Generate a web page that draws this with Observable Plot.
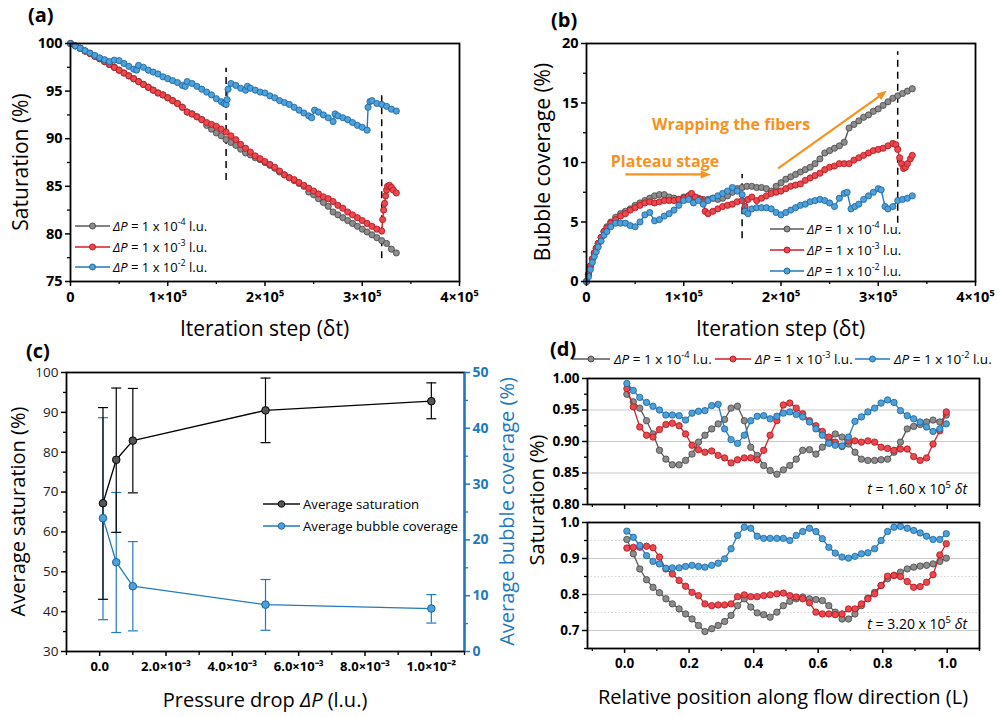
<!DOCTYPE html>
<html>
<head>
<meta charset="utf-8">
<script src="https://cdn.jsdelivr.net/npm/d3@7"></script>
<script src="https://cdn.jsdelivr.net/npm/@observablehq/plot@0.6"></script>
<style>
  body { margin: 0; background: #fff; }
  #fig { position: relative; width: 998px; height: 717px; overflow: hidden; background: #fff; }
  #fig > svg { position: absolute; max-width: none; }
</style>
</head>
<body>
<div id="fig"></div>
<script>
// ---------- (a) saturation (%) vs iteration step (steps in thousands of δt) ----------
const satGrayK = [0,5,10,15,20,25,30,35,40,45,50,55,60,65,70,75,80,85,90,95,100,105,110,115,120,125,130,135,140,145,150,155,160,165,170,175,180,185,190,195,200,205,210,215,220,225,230,235,240,245,250,255,260,265,270,275,280,285,290,295,300,305,310,315,320,325,330,335];
const satGray = [100.0,99.75,99.5,99.2,98.95,98.65,98.4,98.1,97.8,97.5,97.2,96.9,96.6,96.3,96.0,95.7,95.4,95.1,94.8,94.6,94.3,94.0,93.7,93.3,92.8,92.6,92.3,92.0,91.4,91.0,90.6,90.3,89.9,89.6,89.3,88.9,88.5,88.3,88.0,87.8,87.5,87.2,86.9,86.5,86.2,85.9,85.6,85.3,85.0,84.4,84.1,83.7,83.3,82.9,82.3,82.0,81.7,81.4,81.1,80.8,80.5,80.2,79.9,79.6,79.3,79.0,78.4,78.0];
const satRedK = [0,5,10,15,20,25,30,35,40,45,50,55,60,65,70,75,80,85,90,95,100,105,110,115,120,125,130,135,140,145,150,155,160,165,170,175,180,185,190,195,200,205,210,215,220,225,230,235,240,245,250,255,260,265,270,275,280,285,290,295,300,305,310,315,320,321,322,323,324,325,326,328,330,332,335];
const satRed = [100.0,99.75,99.5,99.2,98.95,98.65,98.4,98.1,97.8,97.5,97.2,96.9,96.6,96.3,96.0,95.7,95.4,95.1,94.8,94.6,94.3,94.0,93.7,93.3,92.8,92.6,92.3,92.0,91.7,91.5,91.3,91.0,90.7,90.3,89.9,89.4,89.0,88.6,88.2,87.9,87.6,87.3,87.0,86.6,86.2,85.9,85.7,85.4,85.1,84.8,84.5,84.2,83.9,83.7,83.4,83.0,82.7,82.3,82.0,81.7,81.4,81.1,80.8,80.5,80.3,81.5,82.5,83.2,84.0,84.6,85.0,85.1,84.9,84.6,84.3];
const satBlueK = [0,5,10,15,20,25,30,35,40,45,50,55,60,65,68,70,75,80,85,90,95,100,105,110,115,118,120,125,130,135,140,145,150,155,158,160,161,162,165,170,175,180,182,185,190,195,200,205,210,215,220,225,230,235,240,245,248,251,255,260,265,270,272,275,280,285,290,295,300,305,306,308,310,315,320,325,330,335];
const satBlue = [100.0,99.75,99.5,99.25,99.0,98.75,98.5,98.3,98.1,98.25,98.2,97.9,97.6,97.3,97.2,97.7,97.5,97.2,97.0,96.8,96.5,96.3,96.1,95.9,95.6,95.5,96.0,95.8,95.5,95.2,94.9,94.6,94.2,93.9,93.7,93.6,94.1,95.2,95.8,95.6,95.3,95.1,95.5,95.3,95.1,94.9,94.8,94.5,94.3,94.0,93.8,93.6,93.3,93.0,92.7,92.4,92.2,93.0,92.8,92.5,92.2,91.8,92.6,92.4,92.2,92.0,91.7,91.4,91.2,90.9,93.3,93.9,94.0,93.7,93.6,93.4,93.1,92.9];

// ---------- (b) bubble coverage (%) vs iteration step ----------
const covGrayK = [0,2,4,6,8,10,12,15,18,21,25,30,35,40,45,50,55,60,65,70,75,80,85,90,95,100,105,110,115,120,125,130,135,140,145,150,155,160,165,170,175,180,185,190,195,200,205,210,215,220,225,230,235,240,245,250,255,260,265,270,275,280,285,290,295,300,305,310,315,320,325,330,335];
const covGray = [0,0.6,1.3,1.9,2.4,2.8,3.2,3.7,4.2,4.6,5.0,5.4,5.7,5.9,6.1,6.4,6.6,6.8,7.0,7.2,7.3,7.3,7.1,7.0,6.9,7.1,7.2,7.1,7.0,6.9,6.9,7.0,6.9,7.0,7.2,7.5,7.8,7.9,8.0,8.0,7.9,7.9,7.8,7.6,8.0,8.3,8.6,8.8,9.0,9.2,9.4,9.6,9.9,10.3,10.8,11.0,11.2,11.4,11.7,12.9,13.2,13.5,13.8,14.0,14.3,14.5,14.8,15.1,15.4,15.6,15.8,16.0,16.2];
const covRedK = [0,2,4,6,8,10,12,15,18,21,25,30,35,40,45,50,55,60,65,70,75,80,85,90,95,100,105,108,112,117,120,122,125,130,135,140,145,150,155,160,163,166,170,175,180,185,190,195,200,205,210,215,220,225,230,235,240,245,250,255,260,265,270,275,280,285,290,295,300,305,310,315,318,320,322,324,326,328,330,333,335];
const covRed = [0,0.6,1.3,1.9,2.4,2.8,3.2,3.7,4.2,4.5,4.9,5.2,5.5,5.7,6.0,6.2,6.4,6.6,6.7,6.6,6.7,6.8,6.8,6.8,6.9,7.0,7.2,7.4,7.1,6.9,6.7,5.9,5.7,5.9,6.1,6.3,6.4,6.5,6.7,6.8,6.3,6.9,7.1,6.8,7.0,7.2,7.4,7.5,7.6,7.8,8.0,8.1,8.2,8.5,8.7,8.9,9.1,9.4,9.6,9.7,9.9,9.9,9.9,10.2,10.4,10.6,10.8,11.0,11.1,11.2,11.4,11.6,11.5,11.1,10.4,9.9,9.5,9.6,9.9,10.3,10.6];
const covBlueK = [0,2,4,6,8,10,12,15,18,21,25,30,35,40,45,50,55,60,65,70,75,80,85,90,95,100,105,110,115,120,125,130,135,140,145,150,155,160,163,166,170,175,180,185,190,195,200,205,210,215,220,225,230,235,240,245,250,255,260,265,268,272,276,280,285,290,295,300,303,307,310,315,320,325,330,335];
const covBlue = [0,0.4,1.0,1.6,2.1,2.5,2.9,3.4,3.9,4.2,4.6,4.9,4.9,4.9,4.7,4.6,5.0,5.6,5.8,5.1,5.2,5.5,5.7,6.0,6.4,6.8,6.9,6.6,6.8,6.5,6.8,7.0,7.2,7.4,7.6,7.9,7.6,7.3,5.9,5.7,6.1,6.2,6.2,6.2,6.1,5.8,5.6,5.8,6.0,6.2,6.4,6.5,6.7,6.8,6.9,6.8,6.6,6.3,7.0,7.4,7.5,6.1,6.3,6.5,6.9,7.2,7.5,7.8,7.7,6.3,6.1,6.3,6.8,6.9,7.0,7.2];

// ---------- (c) averages vs pressure drop ----------
const pressureDrop = [1e-4, 5e-4, 1e-3, 5e-3, 1e-2];
const avgSat = [67.2, 78.1, 82.9, 90.5, 92.8];
const avgSatLow = [43.1, 59.9, 69.8, 82.4, 88.4];
const avgSatHigh = [91.2, 96.1, 96.0, 98.6, 97.4];
const avgCov = [23.9, 16.0, 11.7, 8.4, 7.7];
const avgCovLow = [5.7, 3.4, 3.7, 3.8, 5.1];
const avgCovHigh = [41.9, 28.5, 19.7, 12.9, 10.2];

// ---------- (d) saturation profiles along the flow direction ----------
const positionL = [0.007,0.027,0.047,0.068,0.088,0.108,0.128,0.148,0.169,0.189,0.209,0.229,0.249,0.270,0.290,0.310,0.330,0.350,0.371,0.391,0.411,0.431,0.451,0.472,0.492,0.512,0.532,0.552,0.573,0.593,0.613,0.633,0.653,0.674,0.694,0.714,0.734,0.754,0.775,0.795,0.815,0.835,0.855,0.876,0.896,0.916,0.936,0.956,0.977,0.997];
const prof160Gray = [0.975,0.963,0.953,0.933,0.912,0.886,0.872,0.863,0.863,0.870,0.880,0.899,0.910,0.920,0.928,0.935,0.953,0.956,0.933,0.891,0.878,0.862,0.854,0.848,0.855,0.862,0.872,0.886,0.887,0.880,0.891,0.899,0.912,0.907,0.896,0.883,0.872,0.870,0.870,0.871,0.872,0.883,0.899,0.920,0.924,0.927,0.931,0.934,0.931,0.942];
const prof160Red = [0.984,0.955,0.923,0.910,0.907,0.919,0.927,0.929,0.925,0.912,0.894,0.887,0.883,0.885,0.878,0.874,0.866,0.871,0.874,0.874,0.871,0.886,0.910,0.933,0.958,0.961,0.953,0.944,0.933,0.925,0.916,0.907,0.899,0.892,0.901,0.901,0.899,0.901,0.899,0.891,0.889,0.886,0.888,0.888,0.876,0.870,0.874,0.896,0.917,0.947];
const prof160Blue = [0.992,0.981,0.970,0.962,0.956,0.950,0.942,0.942,0.941,0.934,0.945,0.948,0.949,0.957,0.959,0.920,0.903,0.897,0.910,0.933,0.940,0.941,0.936,0.940,0.945,0.947,0.943,0.939,0.931,0.920,0.910,0.897,0.894,0.893,0.907,0.932,0.939,0.947,0.953,0.961,0.966,0.962,0.949,0.941,0.936,0.931,0.923,0.916,0.920,0.928];
const prof320Gray = [0.953,0.913,0.871,0.841,0.820,0.805,0.788,0.774,0.760,0.746,0.732,0.714,0.697,0.705,0.714,0.725,0.742,0.769,0.788,0.765,0.749,0.744,0.737,0.751,0.769,0.781,0.788,0.793,0.788,0.786,0.783,0.769,0.751,0.732,0.732,0.746,0.769,0.790,0.806,0.825,0.844,0.853,0.862,0.871,0.876,0.879,0.881,0.885,0.892,0.901];
const prof320Red = [0.929,0.931,0.931,0.934,0.930,0.904,0.871,0.857,0.839,0.823,0.806,0.797,0.774,0.769,0.771,0.771,0.774,0.794,0.799,0.794,0.794,0.797,0.799,0.802,0.804,0.797,0.793,0.788,0.777,0.751,0.746,0.746,0.744,0.746,0.760,0.760,0.774,0.788,0.802,0.825,0.851,0.853,0.850,0.836,0.820,0.822,0.834,0.855,0.910,0.941];
const prof320Blue = [0.976,0.959,0.936,0.908,0.892,0.885,0.873,0.874,0.874,0.878,0.881,0.878,0.876,0.881,0.887,0.899,0.927,0.964,0.987,0.984,0.962,0.956,0.956,0.956,0.956,0.950,0.964,0.975,0.984,0.975,0.955,0.931,0.915,0.904,0.901,0.906,0.913,0.916,0.927,0.950,0.975,0.987,0.989,0.984,0.978,0.971,0.962,0.953,0.953,0.969];

// ---------- shared styling ----------
const GRAY = {line: "#595959", stroke: "#454545", fill: "#8c8c8c"};
const RED = {line: "#d41f26", stroke: "#b5121b", fill: "#e8494e"};
const BLUE = {line: "#2379bb", stroke: "#15639f", fill: "#4f9fd8"};
const BLACK = {line: "#111", stroke: "#000", fill: "#555"};
const ORANGE = "#f7921e";
const AXIS_BLUE = "#1f78bd";
const FONT = "'Open Sans', sans-serif";
const STYLE = {fontFamily: FONT, background: "transparent", overflow: "visible", color: "#000"};

const sup = t => ({t, sup: true});
const it = t => ({t, i: true});
const dpText = e => [it("ΔP"), " = 1 x 10", sup(e), " l.u."];
const e5 = v => v === 0 ? "0" : `${v / 1e5}×10⁵`;

// horizontal bar glyph used for error-bar caps
const hbar = {draw(ctx, size) { const r = Math.sqrt(size / Math.PI); ctx.moveTo(-r, 0); ctx.lineTo(r, 0); }};
// filled arrow head pointing up (rotated by the dot mark)
const head = {draw(ctx, size) { const r = Math.sqrt(size / Math.PI); ctx.moveTo(0, -r * 1.3); ctx.lineTo(r * 0.8, r * 0.7); ctx.lineTo(-r * 0.8, r * 0.7); ctx.closePath(); }};

function framePoint(d, at) {
  const l = d.marginLeft, r = d.width - d.marginRight, t = d.marginTop, b = d.height - d.marginBottom;
  return [at.includes("left") ? l : at.includes("right") ? r : (l + r) / 2,
          at.includes("top") ? t : at.includes("bottom") ? b : (t + b) / 2];
}

// text with italic / superscript runs, placed relative to the frame
function label(parts, o = {}) {
  const {at = "top-left", dx = 0, dy = 0, size = 13, anchor = "start", rotate = 0, fill = "#000", weight = "normal"} = o;
  return (index, scales, values, dims) => {
    const [fx, fy] = framePoint(dims, at);
    const t = d3.create("svg:text")
      .attr("transform", `translate(${fx + dx},${fy + dy})${rotate ? ` rotate(${rotate})` : ""}`)
      .attr("y", 0.36 * size)
      .attr("text-anchor", anchor)
      .attr("font-family", FONT)
      .attr("font-size", size)
      .attr("font-weight", weight)
      .attr("fill", fill)
      .style("white-space", "pre");
    let shift = 0;
    for (const p of [].concat(parts)) {
      const q = typeof p === "string" ? {t: p} : p;
      const s = t.append("tspan").text(q.t);
      const want = q.sup ? -0.42 * size : 0;
      if (want !== shift) { s.attr("dy", want - shift); shift = want; }
      if (q.sup) s.attr("font-size", 0.68 * size);
      if (q.i) s.attr("font-style", "italic");
    }
    return t.node();
  };
}

// legend key: short line with a marker in its middle
function key(c, x0, x1, dy, r = 3, at = "top-left") {
  return (index, scales, values, dims) => {
    const [fx, fy] = framePoint(dims, at);
    const g = d3.create("svg:g").attr("transform", `translate(${fx},${fy + dy})`);
    g.append("line").attr("x1", x0).attr("x2", x1).attr("stroke", c.line).attr("stroke-width", 1.3);
    g.append("circle").attr("cx", (x0 + x1) / 2).attr("r", r).attr("fill", c.fill).attr("stroke", c.stroke).attr("stroke-width", 0.9);
    return g.node();
  };
}

function series(xs, ys, c, {scale = 1, r = 2.7, width = 1.1} = {}) {
  const rows = xs.map((x, i) => ({x: x * scale, y: ys[i]}));
  return [
    Plot.line(rows, {x: "x", y: "y", stroke: c.line, strokeWidth: width}),
    Plot.dot(rows, {x: "x", y: "y", r, fill: c.fill, stroke: c.stroke, strokeWidth: 0.8})
  ];
}

const blank = () => "";

function iterationAxes(yMajor, yMinor) {
  return [
    Plot.frame({stroke: "#000", strokeWidth: 1.8}),
    Plot.axisX({ticks: [0, 1e5, 2e5, 3e5, 4e5], tickFormat: e5, label: null, tickSize: 5, tickPadding: 5, strokeWidth: 1.5, fontSize: 14.5, fontWeight: "bold"}),
    Plot.axisX({ticks: [5e4, 1.5e5, 2.5e5, 3.5e5], tickFormat: blank, label: null, tickSize: 3, strokeWidth: 1.3}),
    Plot.axisY({ticks: yMajor, label: null, tickSize: 5, tickPadding: 3, strokeWidth: 1.5, fontSize: 14.5, fontWeight: "bold"}),
    Plot.axisY({ticks: yMinor, tickFormat: blank, label: null, tickSize: 3, strokeWidth: 1.3})
  ];
}

const fig = document.getElementById("fig");
function place(svg, left, top) {
  svg.style.position = "absolute";
  svg.style.left = left + "px";
  svg.style.top = top + "px";
  fig.append(svg);
}

const dense = {scale: 1000, r: 3.1, width: 1.4};

// ---------- panel (a) ----------
place(Plot.plot({
  width: 500, height: 340,
  marginLeft: 70, marginRight: 41, marginTop: 43, marginBottom: 59,
  style: STYLE,
  x: {domain: [0, 4e5]},
  y: {domain: [75, 100]},
  marks: [
    Plot.ruleX([160000], {y1: 85.6, y2: 97.4, stroke: "#000", strokeWidth: 1.5, strokeDasharray: "7,5"}),
    Plot.ruleX([320000], {y1: 77.4, y2: 95.0, stroke: "#000", strokeWidth: 1.5, strokeDasharray: "7,5"}),
    ...series(satGrayK, satGray, GRAY, dense),
    ...series(satRedK, satRed, RED, dense),
    ...series(satBlueK, satBlue, BLUE, dense),
    ...iterationAxes([75, 80, 85, 90, 95, 100], [77.5, 82.5, 87.5, 92.5, 97.5]),
    key(GRAY, 5, 40, 183), label(dpText("-4"), {dx: 43, dy: 183}),
    key(RED, 5, 40, 204), label(dpText("-3"), {dx: 43, dy: 204}),
    key(BLUE, 5, 40, 224), label(dpText("-2"), {dx: 43, dy: 224}),
    label("Saturation (%)", {at: "left", dx: -50, rotate: -90, anchor: "middle", size: 21}),
    label("Iteration step (δt)", {at: "bottom", dy: 47, anchor: "middle", size: 21}),
    label("(a)", {dx: -42, dy: -28, size: 20, weight: "bold"})
  ]
}), 0, 0);

// ---------- panel (b) ----------
place(Plot.plot({
  width: 498, height: 340,
  marginLeft: 86, marginRight: 23, marginTop: 43, marginBottom: 59,
  style: STYLE,
  x: {domain: [0, 4e5]},
  y: {domain: [0, 20]},
  marks: [
    Plot.ruleX([160000], {y1: 3.6, y2: 9.0, stroke: "#000", strokeWidth: 1.5, strokeDasharray: "7,5"}),
    Plot.ruleX([320000], {y1: 4.9, y2: 19.3, stroke: "#000", strokeWidth: 1.5, strokeDasharray: "7,5"}),
    ...series(covGrayK, covGray, GRAY, dense),
    ...series(covRedK, covRed, RED, dense),
    ...series(covBlueK, covBlue, BLUE, dense),
    ...iterationAxes([0, 5, 10, 15, 20], [2.5, 7.5, 12.5, 17.5]),
    Plot.link([0], {x1: () => 40000, x2: () => 118000, y1: () => 9.0, y2: () => 9.0, stroke: ORANGE, strokeWidth: 2.2}),
    Plot.dot([0], {x: () => 121000, y: () => 9.0, symbol: head, r: 5, fill: ORANGE, rotate: 90}),
    Plot.link([0], {x1: () => 197000, x2: () => 301000, y1: () => 9.5, y2: () => 15.55, stroke: ORANGE, strokeWidth: 2.2}),
    Plot.dot([0], {x: () => 303500, y: () => 15.7, symbol: head, r: 5, fill: ORANGE, rotate: 54}),
    label("Plateau stage", {dx: 79, dy: 118, anchor: "middle", size: 16, weight: "bold", fill: ORANGE}),
    label("Wrapping the fibers", {dx: 145, dy: 81, anchor: "middle", size: 16, weight: "bold", fill: ORANGE}),
    key(GRAY, 184, 218, 186), label(dpText("-4"), {dx: 221, dy: 186}),
    key(RED, 184, 218, 207), label(dpText("-3"), {dx: 221, dy: 207}),
    key(BLUE, 184, 218, 228), label(dpText("-2"), {dx: 221, dy: 228}),
    label("Bubble coverage (%)", {at: "left", dx: -44, rotate: -90, anchor: "middle", size: 21}),
    label("Iteration step (δt)", {at: "bottom", dy: 47, anchor: "middle", size: 21}),
    label("(b)", {dx: -35, dy: -23, size: 20, weight: "bold"})
  ]
}), 500, 0);

// ---------- panel (c): two y scales, coverage mapped onto the saturation axis ----------
const toSat = b => 30 + b * 70 / 50;
const avgRows = pressureDrop.map((p, i) => ({
  p, sat: avgSat[i], satLo: avgSatLow[i], satHi: avgSatHigh[i],
  cov: toSat(avgCov[i]), covLo: toSat(avgCovLow[i]), covHi: toSat(avgCovHigh[i])
}));
const e3 = v => v === 0 ? "0.0" : v >= 0.01 ? `${(v * 100).toFixed(1)}×10⁻²` : `${(v * 1000).toFixed(1)}×10⁻³`;
place(Plot.plot({
  width: 520, height: 377,
  marginLeft: 66, marginRight: 56, marginTop: 32, marginBottom: 66,
  style: STYLE,
  x: {domain: [-1e-3, 1.1e-2]},
  y: {domain: [30, 100]},
  marks: [
    Plot.ruleX(avgRows, {x: "p", y1: "covLo", y2: "covHi", stroke: BLUE.line, strokeWidth: 1.2}),
    Plot.dot(avgRows, {x: "p", y: "covLo", symbol: hbar, r: 5, stroke: BLUE.line, strokeWidth: 1.2}),
    Plot.dot(avgRows, {x: "p", y: "covHi", symbol: hbar, r: 5, stroke: BLUE.line, strokeWidth: 1.2}),
    Plot.ruleX(avgRows, {x: "p", y1: "satLo", y2: "satHi", stroke: "#000", strokeWidth: 1.2}),
    Plot.dot(avgRows, {x: "p", y: "satLo", symbol: hbar, r: 5, stroke: "#000", strokeWidth: 1.2}),
    Plot.dot(avgRows, {x: "p", y: "satHi", symbol: hbar, r: 5, stroke: "#000", strokeWidth: 1.2}),
    Plot.line(avgRows, {x: "p", y: "cov", stroke: BLUE.line, strokeWidth: 1.3}),
    Plot.dot(avgRows, {x: "p", y: "cov", r: 3.8, fill: BLUE.fill, stroke: BLUE.stroke, strokeWidth: 1}),
    Plot.line(avgRows, {x: "p", y: "sat", stroke: "#000", strokeWidth: 1.3}),
    Plot.dot(avgRows, {x: "p", y: "sat", r: 3.8, fill: BLACK.fill, stroke: BLACK.stroke, strokeWidth: 1}),
    Plot.frame({stroke: "#000", strokeWidth: 1.8}),
    Plot.ruleX([1.1e-2], {stroke: AXIS_BLUE, strokeWidth: 1.8}),
    Plot.axisX({ticks: [0, 2e-3, 4e-3, 6e-3, 8e-3, 1e-2], tickFormat: e3, label: null, tickSize: 5, tickPadding: 5, strokeWidth: 1.5, fontSize: 13, fontWeight: "bold"}),
    Plot.axisX({ticks: [-1e-3, 1e-3, 3e-3, 5e-3, 7e-3, 9e-3, 1.1e-2], tickFormat: blank, label: null, tickSize: 4, strokeWidth: 1.3}),
    Plot.axisY({ticks: [30, 40, 50, 60, 70, 80, 90, 100], label: null, tickSize: 5, tickPadding: 3, strokeWidth: 1.5, fontSize: 13.5, fill: "#222"}),
    Plot.axisY({ticks: [35, 45, 55, 65, 75, 85, 95], tickFormat: blank, label: null, tickSize: 3, strokeWidth: 1.3}),
    Plot.axisY({anchor: "right", ticks: [0, 10, 20, 30, 40, 50].map(toSat), tickFormat: v => String(Math.round((v - 30) * 50 / 70)), label: null, tickSize: 5, tickPadding: 3, strokeWidth: 1.5, color: AXIS_BLUE, fontSize: 14, fontWeight: "bold"}),
    Plot.axisY({anchor: "right", ticks: [5, 15, 25, 35, 45].map(toSat), tickFormat: blank, label: null, tickSize: 3, strokeWidth: 1.3, color: AXIS_BLUE}),
    key(BLACK, 197, 234, 132, 3.3), label("Average saturation", {dx: 237, dy: 132, size: 13.2}),
    key(BLUE, 197, 234, 154, 3.3), label("Average bubble coverage", {dx: 237, dy: 154, size: 13.2}),
    label("Average saturation (%)", {at: "left", dx: -48, rotate: -90, anchor: "middle", size: 20}),
    label("Average bubble coverage (%)", {at: "right", dx: 43, rotate: -90, anchor: "middle", size: 20, fill: AXIS_BLUE}),
    label(["Pressure drop ", it("ΔP"), " (l.u.)"], {at: "bottom", dy: 49, anchor: "middle", size: 20}),
    label("(c)", {dx: -40, dy: -21, size: 20, weight: "bold"})
  ]
}), 0, 340);

// ---------- panel (d): profiles at two times ----------
const xTicksMajor = [0, 0.2, 0.4, 0.6, 0.8, 1.0];
const xTicksMinor = [-0.1, 0.1, 0.3, 0.5, 0.7, 0.9, 1.1];
function profileMarks(gray, red, blue) {
  return [
    ...series(positionL, gray, GRAY, {r: 3.2, width: 1.3}),
    ...series(positionL, red, RED, {r: 3.2, width: 1.3}),
    ...series(positionL, blue, BLUE, {r: 3.2, width: 1.3})
  ];
}

place(Plot.plot({
  width: 498, height: 172,
  marginLeft: 87, marginRight: 19, marginTop: 38, marginBottom: 8,
  style: STYLE,
  x: {domain: [-0.115, 1.1]},
  y: {domain: [0.8, 1.0]},
  marks: [
    Plot.ruleY([0.85, 0.90, 0.95], {stroke: "#c9c9c9", strokeWidth: 1}),
    ...profileMarks(prof160Gray, prof160Red, prof160Blue),
    Plot.frame({stroke: "#000", strokeWidth: 1.8}),
    Plot.axisX({ticks: xTicksMajor, tickFormat: blank, label: null, tickSize: 5, strokeWidth: 1.5}),
    Plot.axisX({ticks: xTicksMinor, tickFormat: blank, label: null, tickSize: 3, strokeWidth: 1.3}),
    Plot.axisY({ticks: [0.80, 0.85, 0.90, 0.95, 1.00], tickFormat: v => v.toFixed(2), label: null, tickSize: 5, tickPadding: 3, strokeWidth: 1.5, fontSize: 13.5, fontWeight: "bold"}),
    Plot.axisY({ticks: [0.825, 0.875, 0.925, 0.975], tickFormat: blank, label: null, tickSize: 3, strokeWidth: 1.3}),
    label([it("t"), " = 1.60 x 10", sup("5"), " ", it("δt")], {at: "bottom-right", dx: -12, dy: -15, anchor: "end", size: 14}),
    key(GRAY, -15, 23, -19), label(dpText("-4"), {dx: 27, dy: -19, size: 13.5}),
    key(RED, 128, 164, -19), label(dpText("-3"), {dx: 168, dy: -19, size: 13.5}),
    key(BLUE, 268, 303, -19), label(dpText("-2"), {dx: 307, dy: -19, size: 13.5}),
    label("(d)", {dx: -37, dy: -29, size: 20, weight: "bold"})
  ]
}), 500, 340);

place(Plot.plot({
  width: 498, height: 205,
  marginLeft: 87, marginRight: 19, marginTop: 10, marginBottom: 69,
  style: STYLE,
  x: {domain: [-0.115, 1.1]},
  y: {domain: [0.65, 1.0]},
  marks: [
    Plot.ruleY([0.75, 0.85, 0.95], {stroke: "#d4d4d4", strokeWidth: 1, strokeDasharray: "1.5,2"}),
    Plot.ruleY([0.7, 0.8, 0.9], {stroke: "#c9c9c9", strokeWidth: 1}),
    ...profileMarks(prof320Gray, prof320Red, prof320Blue),
    Plot.frame({stroke: "#000", strokeWidth: 1.8}),
    Plot.axisX({ticks: xTicksMajor, tickFormat: v => v.toFixed(1), label: null, tickSize: 5, tickPadding: 5, strokeWidth: 1.5, fontSize: 13.5, fontWeight: "bold"}),
    Plot.axisX({ticks: xTicksMinor, tickFormat: blank, label: null, tickSize: 3, strokeWidth: 1.3}),
    Plot.axisY({ticks: [0.7, 0.8, 0.9, 1.0], tickFormat: v => v.toFixed(1), label: null, tickSize: 5, tickPadding: 3, strokeWidth: 1.5, fontSize: 13.5, fontWeight: "bold"}),
    Plot.axisY({ticks: [0.65, 0.75, 0.85, 0.95], tickFormat: blank, label: null, tickSize: 3, strokeWidth: 1.3}),
    label([it("t"), " = 3.20 x 10", sup("5"), " ", it("δt")], {at: "bottom-right", dx: -12, dy: -24, anchor: "end", size: 14}),
    label("Saturation (%)", {dx: -50, dy: -22, rotate: -90, anchor: "middle", size: 20}),
    label("Relative position along flow direction (L)", {at: "bottom", dy: 49, anchor: "middle", size: 20})
  ]
}), 500, 512);
</script>
</body>
</html>
